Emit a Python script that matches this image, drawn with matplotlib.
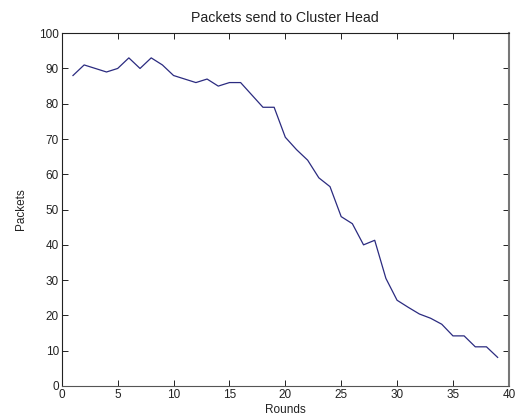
import numpy as np
import matplotlib
matplotlib.use("Agg")
import matplotlib.pyplot as plt

rounds = np.arange(1, 40)
packets = [88, 91, 90, 89, 90, 93, 90, 93, 91, 88,
           87, 86, 87, 85, 86, 86, 82.5, 79, 79, 70.5,
           67, 64, 59, 56.5, 48, 46, 40, 41.3, 30.5, 24.3,
           22.3, 20.4, 19.2, 17.5, 14.2, 14.2, 11.1, 11.1, 8.1]

xticks = np.arange(0, 41, 5)
yticks = np.arange(0, 101, 10)

plt.rcParams['font.family'] = ['Liberation Sans', 'DejaVu Sans']
plt.rcParams['font.size'] = 8.5

fig = plt.figure(figsize=(5.15, 4.2), dpi=100)
ax = fig.add_axes([0.120, 0.081, 0.868, 0.840])

ax.plot(rounds, packets, color='#2b2b80', lw=0.9)

ax.set_xlim(0, 40)
ax.set_ylim(0, 100)
ax.set_xticks(xticks)
ax.set_yticks(yticks)
ax.tick_params(direction='in', top=True, right=True, length=4, width=0.7,
               colors='#222222', labelcolor='#222222', pad=2)
for s in ax.spines.values():
    s.set_linewidth(0.8)
    s.set_color('#222222')
ax.spines['right'].set_color('#777777')
ax.spines['right'].set_linewidth(1.5)
ax.spines['bottom'].set_color('#555555')

ax.set_title('Packets send to Cluster Head', pad=8, color='#222222')
ax.set_xlabel('Rounds', labelpad=2, color='#222222')
ax.set_ylabel('Packets', labelpad=9, color='#222222')

fig.savefig('out.png', dpi=100)
